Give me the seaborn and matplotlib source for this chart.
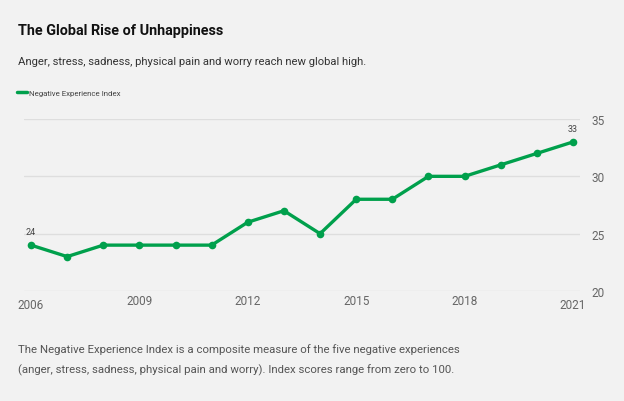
import matplotlib
matplotlib.use("Agg")
import matplotlib.pyplot as plt
import seaborn as sns
import pandas as pd

years = [2006, 2007, 2008, 2009, 2010, 2011, 2012, 2013, 2014, 2015, 2016, 2017, 2018, 2019, 2020, 2021]
index_values = [24, 23, 24, 24, 24, 24, 26, 27, 25, 28, 28, 30, 30, 31, 32, 33]
x_ticks = [2006, 2009, 2012, 2015, 2018, 2021]
y_ticks = [20, 25, 30, 35]
series_name = "Negative Experience Index"

df = pd.DataFrame({"year": years, "value": index_values})

sns.set_theme(style="white")
plt.rcParams["font.family"] = ["Roboto", "DejaVu Sans"]

BG = "#f2f2f2"
GREEN = "#00a04c"
W, H = 624, 402
fig = plt.figure(figsize=(W / 100, H / 100), dpi=100, facecolor=BG)
ax = fig.add_axes([24 / W, (H - 292) / H, (580 - 24) / W, (292 - 120) / H])
ax.set_facecolor(BG)

sns.lineplot(data=df, x="year", y="value", ax=ax, color=GREEN, linewidth=2.4,
             marker="o", markersize=5.5, markeredgewidth=0, clip_on=False)

ax.set_xlim(2006 - 7 / 36.13, 2021 + 7 / 36.13)
ax.set_ylim(20, 35)
for s in ax.spines.values():
    s.set_visible(False)
ax.set_yticks(y_ticks)
ax.yaxis.tick_right()
ax.yaxis.grid(True, color="#dedede", linewidth=1)
ax.xaxis.grid(False)
ax.tick_params(axis="y", length=0, pad=8, labelsize=8.5, labelcolor="#666666")
ax.set_xticks(x_ticks)
ax.set_xticklabels([])
ax.tick_params(axis="x", length=0)
ax.set_xlabel("")
ax.set_ylabel("")

for yr in x_ticks:
    dy = -10 if yr in (2006, 2021) else -7
    ax.annotate(str(yr), (yr, 20), xytext=(0, dy), textcoords="offset points",
                ha="center", va="center", fontsize=8.5, color="#666666", annotation_clip=False)

ax.annotate(str(index_values[0]), (years[0], index_values[0]), xytext=(0, 10),
            textcoords="offset points", ha="center", va="center", fontsize=6.5, color="#444444",
            annotation_clip=False)
ax.annotate(str(index_values[-1]), (years[-1], index_values[-1]), xytext=(0, 10),
            textcoords="offset points", ha="center", va="center", fontsize=6.5, color="#444444",
            annotation_clip=False)

fig.text(18 / W, 1 - 31 / H, "The Global Rise of Unhappiness", fontsize=10.4, fontweight="bold",
         color="#111111", va="center", ha="left")
fig.text(18 / W, 1 - 62 / H, "Anger, stress, sadness, physical pain and worry reach new global high.",
         fontsize=8.15, color="#333333", va="center", ha="left")
fig.add_artist(plt.Line2D([17 / W, 27 / W], [1 - 93 / H, 1 - 93 / H], color=GREEN, linewidth=2.5,
                          solid_capstyle="round"))
fig.text(29 / W, 1 - 94 / H, series_name, fontsize=5.7, color="#444444", va="center", ha="left")
fig.text(18 / W, 1 - 350 / H,
         "The Negative Experience Index is a composite measure of the five negative experiences",
         fontsize=8.2, color="#555555", va="center", ha="left")
fig.text(18 / W, 1 - 370 / H,
         "(anger, stress, sadness, physical pain and worry). Index scores range from zero to 100.",
         fontsize=8.2, color="#555555", va="center", ha="left")

fig.savefig("out.png", dpi=100, facecolor=BG)
